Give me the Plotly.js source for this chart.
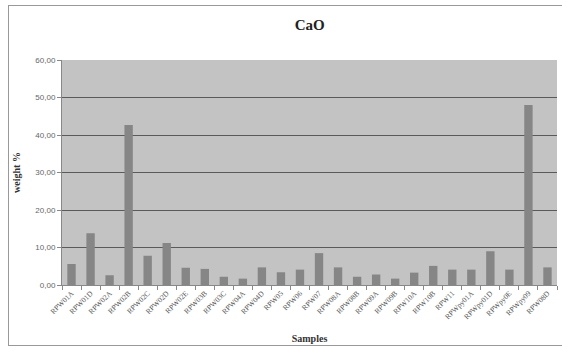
<!DOCTYPE html>
<html>
<head>
<meta charset="utf-8">
<script src="https://cdn.plot.ly/plotly-3.0.1.min.js"></script>
<style>
html,body{margin:0;padding:0;background:#fff;}
#frame{position:absolute;left:8px;top:5px;width:560px;height:341px;border:1px solid #999;box-sizing:border-box;pointer-events:none;z-index:5;}
#chart{position:absolute;left:0;top:0;width:562px;height:350px;}
</style>
</head>
<body>
<div id="chart"></div>
<div id="frame"></div>
<script>
const samples = ["RPW01A","RPW01D","RPW02A","RPW02B","RPW02C","RPW02D","RPW02E","RPW03B","RPW03C","RPW04A","RPW04D","RPW05","RPW06","RPW07","RPW08A","RPW08B","RPW09A","RPW09B","RPW10A","RPW10B","RPW11","RPWpy01A","RPWpy01D","RPWpy0E","RPWpy09","RPW08D"];
const cao = [5.6,13.8,2.6,42.7,7.8,11.2,4.6,4.3,2.2,1.7,4.7,3.4,4.1,8.5,4.7,2.2,2.8,1.7,3.3,5.1,4.1,4.1,9.0,4.1,48.0,4.7];
const yTicks = [0,10,20,30,40,50,60];

const serif = '"Liberation Serif", "Times New Roman", serif';

const trace = {
  type: 'bar',
  x: samples,
  y: cao,
  marker: {color: '#868686', line: {width: 0}},
  hoverinfo: 'x+y'
};

const layout = {
  width: 562, height: 350,
  margin: {l: 62, r: 5, t: 60, b: 65},
  paper_bgcolor: '#ffffff',
  plot_bgcolor: '#c3c3c3',
  bargap: 0.56,
  showlegend: false,
  separators: ',.',
  title: {text: '<b>CaO</b>', x: 0.551, xanchor: 'center', y: 0.93, yanchor: 'middle',
          font: {family: serif, size: 15, color: '#222'}},
  xaxis: {
    type: 'category',
    tickangle: -45,
    tickfont: {family: serif, size: 7.5, color: '#555'},
    ticks: 'outside', tickson: 'boundaries', ticklen: 4, tickcolor: '#888',
    showline: true, linecolor: '#888', linewidth: 1,
    showgrid: false,
    title: {text: '<b>Samples</b>', standoff: 14,
            font: {family: serif, size: 10, color: '#333'}}
  },
  yaxis: {
    range: [0, 60],
    tickvals: yTicks,
    tickformat: '.2f',
    tickfont: {family: '"Liberation Sans", Arial, sans-serif', size: 8, color: '#666'},
    ticks: 'outside', ticklen: 4, tickcolor: '#888',
    showline: true, linecolor: '#888', linewidth: 1,
    showgrid: true, gridcolor: '#5a5a5a', gridwidth: 1,
    zeroline: false,
    title: {text: '<b>weight %</b>', standoff: 12,
            font: {family: serif, size: 10, color: '#333'}}
  }
};

Plotly.newPlot('chart', [trace], layout, {displayModeBar: false, staticPlot: true});
</script>
</body>
</html>
